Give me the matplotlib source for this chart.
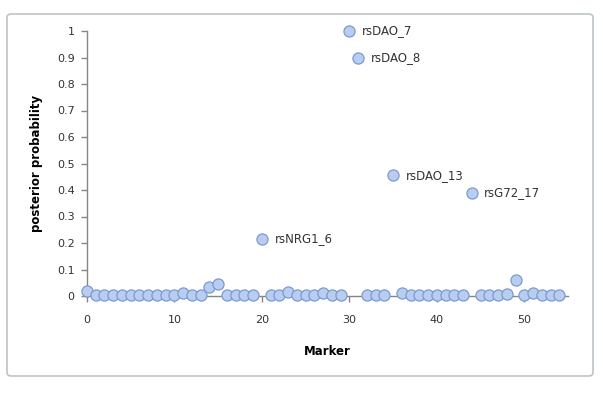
import matplotlib.pyplot as plt
from matplotlib.patches import FancyBboxPatch

# posterior probability per marker
markers = list(range(55))
posterior = [
    0.020, 0.002, 0.003, 0.002, 0.002, 0.002, 0.002, 0.002, 0.002, 0.002,
    0.004, 0.010, 0.003, 0.002, 0.035, 0.044, 0.002, 0.002, 0.003, 0.002,
    0.215, 0.002, 0.005, 0.014, 0.003, 0.002, 0.003, 0.010, 0.004, 0.002,
    1.000, 0.900, 0.002, 0.002, 0.002, 0.455, 0.010, 0.004, 0.004, 0.005,
    0.004, 0.003, 0.003, 0.002, 0.390, 0.002, 0.002, 0.002, 0.007, 0.060,
    0.002, 0.010, 0.004, 0.003, 0.003,
]
labelled = {20: "rsNRG1_6", 30: "rsDAO_7", 31: "rsDAO_8", 35: "rsDAO_13", 44: "rsG72_17"}

fig = plt.figure(figsize=(6.03, 4.01), dpi=100)

# chart frame (drawn behind the axes)
frame = FancyBboxPatch((7 / 603, 1 - 376 / 401), 586 / 603, 362 / 401,
                       boxstyle="round,pad=0,rounding_size=0.008",
                       transform=fig.transFigure, facecolor="white",
                       edgecolor="#bcc4c8", linewidth=1.2, zorder=-10)
fig.patches.append(frame)

ax = fig.add_axes([87 / 603, 105 / 401, 481 / 603, 265 / 401])
ax.patch.set_alpha(0)

ax.scatter(markers, posterior, s=64, facecolor="#b9cdf0", edgecolor="#7b9ad2",
           linewidth=0.9, zorder=3, clip_on=False)

for i, txt in labelled.items():
    ax.annotate(txt, (markers[i], posterior[i]), xytext=(9, 0),
                textcoords="offset points", va="center", ha="left",
                fontsize=8.5, color="#333333")

ax.set_xlim(0, 55)
ax.set_ylim(0, 1)
ax.set_xticks(range(0, 51, 10))
ax.set_yticks([i / 10 for i in range(11)])
ax.set_yticklabels(["0", "0.1", "0.2", "0.3", "0.4", "0.5", "0.6", "0.7", "0.8", "0.9", "1"])

for side in ("top", "right"):
    ax.spines[side].set_visible(False)
for side in ("left", "bottom"):
    ax.spines[side].set_color("#868686")
    ax.spines[side].set_linewidth(1.0)

ax.tick_params(axis="both", colors="#868686", labelcolor="#333333",
               labelsize=8, length=4, width=1.0)
ax.tick_params(axis="x", pad=10)
ax.tick_params(axis="y", pad=5)

ax.set_xlabel("Marker", fontsize=8.5, fontweight="bold", labelpad=14)
ax.set_ylabel("posterior probability", fontsize=8.5, fontweight="bold", labelpad=10)

plt.savefig("out.png", dpi=100)
